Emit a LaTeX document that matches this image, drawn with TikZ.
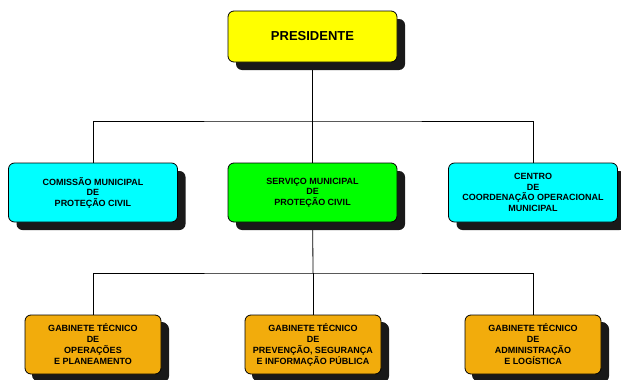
\documentclass[tikz,border=0pt]{standalone}
\usepackage{fontspec}
\setmainfont{Liberation Sans}
\usetikzlibrary{shapes}
\usetikzlibrary{shadows}
\usetikzlibrary{backgrounds}
\definecolor{boxgold}{HTML}{F2AC0C}
\definecolor{boxcyan}{HTML}{00FFFF}
\definecolor{boxgreen}{HTML}{00FF00}
\definecolor{boxyellow}{HTML}{FFFF00}
\tikzset{
    mybox/.style = {rectangle, rounded corners=6pt, line width=0.8pt, draw=black, align=center, inner sep=0pt,
        drop shadow={shadow xshift=8pt, shadow yshift=-8pt, fill=black!90, opacity=1},
        font=\bfseries\fontsize{9}{10.5}\selectfont, text=black},
    mynodey/.style = {mybox, fill=boxyellow, minimum width=169pt, minimum height=51pt, font=\bfseries\fontsize{13}{15}\selectfont},
    mynodec/.style = {mybox, fill=boxcyan, minimum width=169pt, minimum height=59pt},
    mynodeg/.style = {mybox, fill=boxgreen, minimum width=169pt, minimum height=59pt},
    mynodeo/.style = {mybox, fill=boxgold, minimum width=136pt, minimum height=59pt,
        drop shadow={shadow xshift=7pt, shadow yshift=-7pt, fill=black!90, opacity=1},
        font=\bfseries\fontsize{9}{11}\selectfont},
    edgen/.style = {-, line width=0.8pt, black}
}

\begin{document}
\begin{tikzpicture}[x=1pt, y=-1pt]
\useasboundingbox (0,0) rectangle (621,380);
\node[mynodey] at (312.5, 36.5) (pres) {PRESIDENTE};
%
\node[mynodec] at (93, 192.5) (cmpc) {COMISSÃO MUNICIPAL\\DE\\PROTEÇÃO CIVIL};
\node[mynodeg] at (312.5, 192.5) (smpc) {SERVIÇO MUNICIPAL\\DE\\PROTEÇÃO CIVIL};
\node[mynodec] at (533, 192.5) (ccom) {CENTRO\\DE\\COORDENAÇÃO OPERACIONAL\\MUNICIPAL};
%
\node[mynodeo] at (93, 344.5) (gtop) {GABINETE TÉCNICO\\DE\\OPERAÇÕES\\E PLANEAMENTO};
\node[mynodeo] at (313, 344.5) (gtps) {GABINETE TÉCNICO\\DE\\PREVENÇÃO, SEGURANÇA\\E INFORMAÇÃO PÚBLICA};
\node[mynodeo] at (533, 344.5) (gtal) {GABINETE TÉCNICO\\DE\\ADMINISTRAÇÃO\\E LOGÍSTICA};
%
\coordinate (bus1) at (312.5, 121);
\coordinate (bus2) at (313, 273);
\begin{scope}[on background layer]
\draw[edgen] (pres) -- (bus1);
\draw[edgen] (cmpc) |- (bus1) -| (ccom);
\draw[edgen] (bus1) -- (smpc);
\draw[edgen] (smpc) -- (bus2);
\draw[edgen] (gtop) |- (bus2) -| (gtal);
\draw[edgen] (bus2) -- (gtps);
\end{scope}
\end{tikzpicture}
\end{document}
